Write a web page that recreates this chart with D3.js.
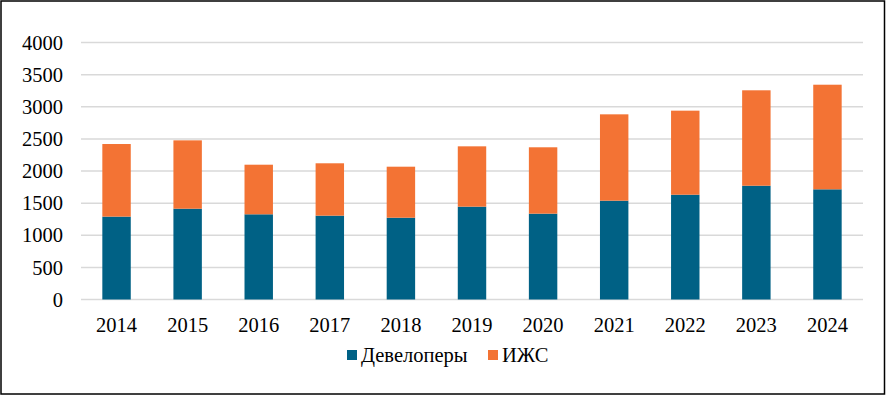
<!DOCTYPE html>
<html>
<head>
<meta charset="utf-8">
<script src="https://cdn.jsdelivr.net/npm/d3@7"></script>
<style>
  body { margin: 0; background: #fff; }
</style>
</head>
<body>
<div id="chart"></div>
<script>
// data
const years = ["2014", "2015", "2016", "2017", "2018", "2019", "2020", "2021", "2022", "2023", "2024"];
const developers = [1290, 1413, 1326, 1305, 1273, 1445, 1336, 1538, 1631, 1771, 1715];
const izhs = [1130, 1064, 772, 815, 794, 939, 1033, 1344, 1308, 1485, 1628];
const yTicks = [0, 500, 1000, 1500, 2000, 2500, 3000, 3500, 4000];
const seriesNames = ["Девелоперы", "ИЖС"];
const colors = ["#006185", "#F37334"];

const width = 886, height = 396;
const font = "'Liberation Serif', 'Times New Roman', Times, 'DejaVu Serif', serif";
const fontSize = "20.5px";

const svg = d3.select("#chart")
  .append("svg")
  .attr("width", width)
  .attr("height", height)
  .attr("font-family", font);

// outer frame
svg.append("rect")
  .attr("x", 1).attr("y", 1)
  .attr("width", width - 2.5).attr("height", height - 3)
  .attr("fill", "#fff")
  .attr("stroke", "#000")
  .attr("stroke-width", 1.5);

const plot = { left: 81, right: 863, top: 42.5, bottom: 299.5 };

const x = d3.scaleBand()
  .domain(years)
  .range([plot.left, plot.right])
  .paddingInner(0.6)
  .paddingOuter(0.3);

const y = d3.scaleLinear()
  .domain([0, 4000])
  .range([plot.bottom, plot.top]);

// grid lines
svg.append("g")
  .selectAll("line")
  .data(yTicks)
  .enter()
  .append("line")
  .attr("x1", plot.left)
  .attr("x2", plot.right)
  .attr("y1", d => y(d))
  .attr("y2", d => y(d))
  .attr("stroke", "#d9d9d9")
  .attr("stroke-width", 1.5);

// y labels
svg.append("g")
  .selectAll("text")
  .data(yTicks)
  .enter()
  .append("text")
  .attr("x", 63)
  .attr("y", d => y(d))
  .attr("dy", "0.35em")
  .attr("text-anchor", "end")
  .style("font-size", fontSize)
  .text(d => d);

// stacked bars
const rows = years.map((yr, i) => ({ year: yr, dev: developers[i], izhs: izhs[i] }));
const stack = d3.stack().keys(["dev", "izhs"])(rows);

svg.append("g")
  .selectAll("g")
  .data(stack)
  .enter()
  .append("g")
  .attr("fill", (d, i) => colors[i])
  .selectAll("rect")
  .data(d => d)
  .enter()
  .append("rect")
  .attr("x", d => x(d.data.year))
  .attr("width", x.bandwidth())
  .attr("y", d => y(d[1]))
  .attr("height", d => y(d[0]) - y(d[1]));

// x labels
svg.append("g")
  .selectAll("text")
  .data(years)
  .enter()
  .append("text")
  .attr("x", d => x(d) + x.bandwidth() / 2)
  .attr("y", 325)
  .attr("dy", "0.35em")
  .attr("text-anchor", "middle")
  .style("font-size", fontSize)
  .text(d => d);

// legend
const legendPos = [347, 488];
const legend = svg.append("g")
  .selectAll("g")
  .data(seriesNames)
  .enter()
  .append("g")
  .attr("transform", (d, i) => `translate(${legendPos[i]}, 355)`);

legend.append("rect")
  .attr("x", 0)
  .attr("y", -5)
  .attr("width", 10)
  .attr("height", 10)
  .attr("fill", (d, i) => colors[i]);

legend.append("text")
  .attr("x", 14)
  .attr("y", 0)
  .attr("dy", "0.35em")
  .style("font-size", fontSize)
  .text(d => d);
</script>
</body>
</html>
